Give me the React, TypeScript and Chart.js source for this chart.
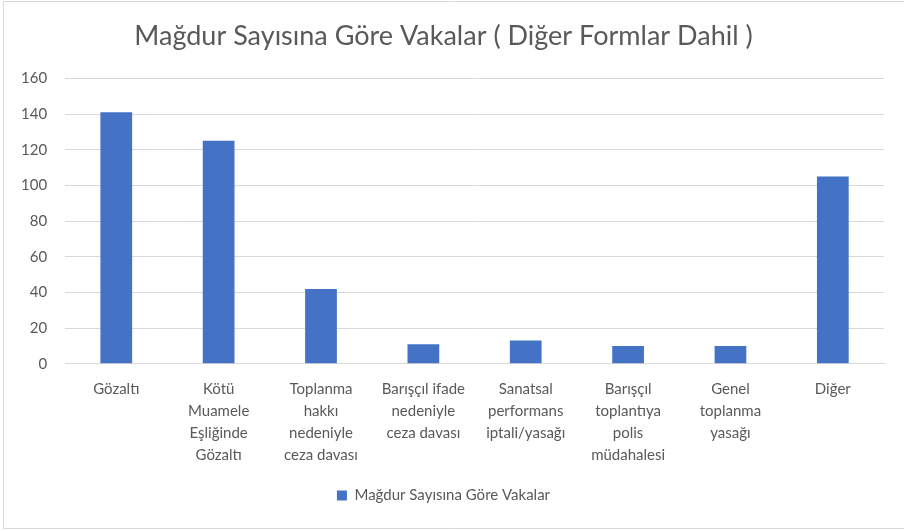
import React, { useEffect, useRef } from "react";
import { Chart, registerables } from "chart.js";

Chart.register(...registerables);

const TITLE = "Mağdur Sayısına Göre Vakalar ( Diğer Formlar Dahil )";
const SERIES_NAME = "Mağdur Sayısına Göre Vakalar";
const CATEGORIES: string[][] = [
  ["Gözaltı"],
  ["Kötü", "Muamele", "Eşliğinde", "Gözaltı"],
  ["Toplanma", "hakkı", "nedeniyle", "ceza davası"],
  ["Barışçıl ifade", "nedeniyle", "ceza davası"],
  ["Sanatsal", "performans", "iptali/yasağı"],
  ["Barışçıl", "toplantıya", "polis", "müdahalesi"],
  ["Genel", "toplanma", "yasağı"],
  ["Diğer"],
];
const VALUES = [141, 125, 42, 11, 13, 10, 10, 105];
const Y_MIN = 0;
const Y_MAX = 160;
const Y_STEP = 20;

const FONT = "Lato, 'Open Sans', sans-serif";
const TEXT = "#595959";

const borderPlugin = {
  id: "outerBorder",
  afterDraw(chart: any) {
    const ctx = chart.ctx;
    ctx.save();
    ctx.strokeStyle = "#d9d9d9";
    ctx.lineWidth = 1;
    ctx.beginPath();
    ctx.moveTo(905, 1.5);
    ctx.lineTo(3.5, 1.5);
    ctx.lineTo(3.5, 528.5);
    ctx.lineTo(905, 528.5);
    ctx.stroke();
    ctx.restore();
  },
};

export default function App() {
  const ref = useRef<HTMLCanvasElement>(null);
  useEffect(() => {
    document.body.style.margin = "0";
    const chart = new Chart(ref.current!, {
      type: "bar",
      data: {
        labels: CATEGORIES,
        datasets: [
          {
            label: SERIES_NAME,
            data: VALUES,
            backgroundColor: "#4472C4",
            borderWidth: 0,
            barPercentage: 0.62,
            categoryPercentage: 0.5,
          },
        ],
      },
      options: {
        animation: false,
        responsive: false,
        maintainAspectRatio: false,
        layout: { padding: { left: 3, right: 20, top: 14, bottom: 18 } },
        plugins: {
          title: {
            display: true,
            text: TITLE,
            color: TEXT,
            font: { family: FONT, size: 27, weight: "normal" },
            padding: { top: 6, bottom: 26 },
          },
          legend: {
            position: "bottom",
            labels: {
              color: TEXT,
              font: { family: FONT, size: 15 },
              boxWidth: 10,
              boxHeight: 10,
              padding: 12,
            },
          },
          tooltip: { enabled: false },
        },
        scales: {
          x: {
            grid: { display: false },
            border: { display: true, color: "#d9d9d9" },
            afterFit: (scale: any) => {
              scale.height += 4;
            },
            ticks: {
              color: TEXT,
              font: { family: FONT, size: 15, lineHeight: 1.47 },
              maxRotation: 0,
              autoSkip: false,
              padding: 6,
            },
          },
          y: {
            min: Y_MIN,
            max: Y_MAX,
            grid: { color: "#d9d9d9", drawTicks: false },
            border: { display: false },
            ticks: {
              stepSize: Y_STEP,
              color: TEXT,
              font: { family: FONT, size: 15 },
              padding: 18,
            },
          },
        },
      },
      plugins: [borderPlugin],
    });
    return () => chart.destroy();
  }, []);
  return <canvas ref={ref} width={904} height={531} style={{ display: "block" }} />;
}
